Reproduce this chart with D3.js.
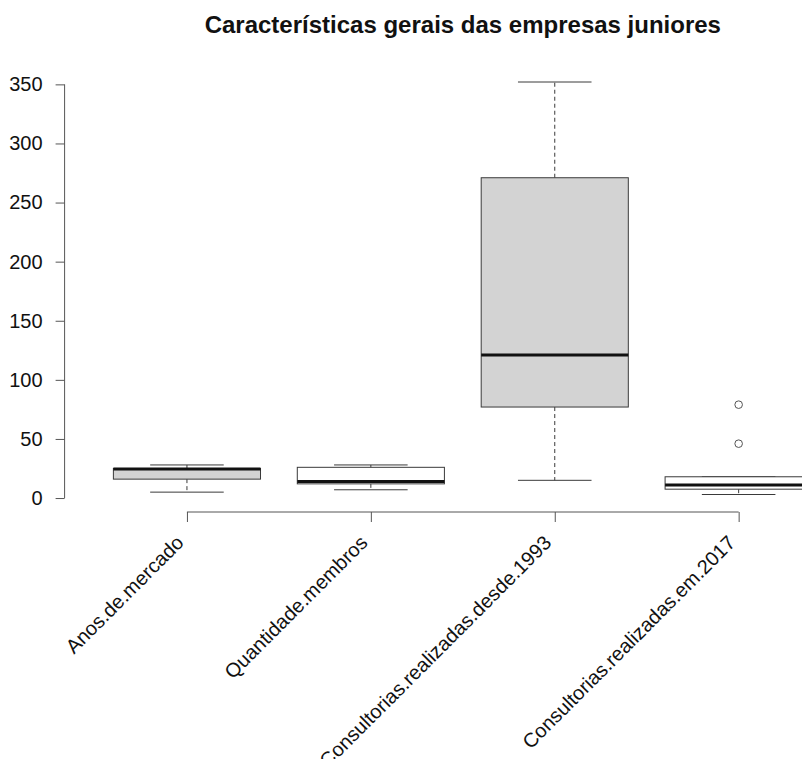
<!DOCTYPE html>
<html>
<head>
<meta charset="utf-8">
<script src="https://cdn.jsdelivr.net/npm/d3@7"></script>
<style>
  body { margin: 0; background: #fff; }
  svg { display: block; font-family: "Liberation Sans", Arial, sans-serif; }
</style>
</head>
<body>
<div id="chart"></div>
<script>
// Box statistics.
const categories = ['Anos.de.mercado', 'Quantidade.membros', 'Consultorias.realizadas.desde.1993', 'Consultorias.realizadas.em.2017'];
const whiskerLow = [5, 7, 15, 3];
const lowerQuartile = [16, 12, 77, 7.5];
const medians = [24.5, 14, 121, 11];
const upperQuartile = [25, 26, 271, 18];
const whiskerHigh = [28, 28, 352, 18];
const outliers = [[], [], [], [46, 79]];
const yTicks = [0, 50, 100, 150, 200, 250, 300, 350];

const title = 'Características gerais das empresas juniores';

const width = 802,
      height = 759;

// plot region (the original R figure was wider and cropped on the right)
const plot = { left: 65.6, right: 860, top: 65.5, bottom: 511 };

const boxes = categories.map((c, i) => ({
  name: c,
  min: whiskerLow[i],
  q1: lowerQuartile[i],
  med: medians[i],
  q3: upperQuartile[i],
  max: whiskerHigh[i],
  out: outliers[i]
}));

const svg = d3.select('#chart')
  .append('svg')
  .attr('width', width)
  .attr('height', height);

const x = d3.scalePoint()
  .domain(categories)
  .range([plot.left + 29.4, plot.right - 29.4]) // xlim 0.5..4.5 inside the 4% padding
  .padding(0.5);

// R style: data range padded 4% each side
const allVals = d3.merge([whiskerLow, whiskerHigh, d3.merge(outliers)]);
const lo = d3.min(allVals), hi = d3.max(allVals), pad = (hi - lo) * 0.04;

const y = d3.scaleLinear()
  .domain([lo - pad, hi + pad])
  .range([plot.bottom, plot.top]);

const fill = d3.scaleOrdinal()
  .domain(categories)
  .range(['#d3d3d3', '#ffffff']);

const boxW = x.step() * 0.8,
      stapleW = boxW * 0.5,
      lineCol = '#3a3a3a';

// title
svg.append('text')
  .attr('x', (plot.left + plot.right) / 2)
  .attr('y', 33)
  .attr('text-anchor', 'middle')
  .attr('font-size', 24)
  .attr('font-weight', 'bold')
  .attr('fill', '#111')
  .text(title);

// y axis
const yAxis = d3.axisLeft(y)
  .tickValues(yTicks)
  .tickSize(9)
  .tickPadding(13);

const gy = svg.append('g')
  .attr('transform', `translate(${plot.left - 1},0)`)
  .call(yAxis);
gy.select('.domain').remove();
gy.selectAll('line').attr('stroke', '#555');
gy.selectAll('text').attr('font-size', 20).attr('fill', '#111').attr('font-family', null);
gy.append('line')
  .attr('y1', y(d3.min(yTicks)))
  .attr('y2', y(d3.max(yTicks)))
  .attr('stroke', '#555');

// x axis
const xAxis = d3.axisBottom(x)
  .tickSize(10)
  .tickFormat('');

const gx = svg.append('g')
  .attr('transform', `translate(0,${plot.bottom + 1})`)
  .call(xAxis);
gx.select('.domain').remove();
gx.selectAll('line').attr('stroke', '#555');
gx.append('line')
  .attr('x1', x(categories[0]))
  .attr('x2', x(categories[categories.length - 1]))
  .attr('stroke', '#555');

// rotated category labels (the long one runs off the bottom, as in the original)
svg.selectAll('.catLabel')
  .data(categories)
  .enter()
  .append('text')
  .attr('class', 'catLabel')
  .attr('transform', d => `translate(${x(d) - 7},${plot.bottom + 28}) rotate(-45)`)
  .attr('text-anchor', 'end')
  .attr('dy', '0.35em')
  .attr('font-size', 20)
  .attr('fill', '#111')
  .text(d => d);

const g = svg.selectAll('.box')
  .data(boxes)
  .enter()
  .append('g')
  .attr('class', 'box');

// whiskers (dashed)
g.append('line')
  .attr('x1', d => x(d.name))
  .attr('x2', d => x(d.name))
  .attr('y1', d => y(d.q3))
  .attr('y2', d => y(d.max))
  .attr('stroke', lineCol)
  .attr('stroke-dasharray', '4,3');

g.append('line')
  .attr('x1', d => x(d.name))
  .attr('x2', d => x(d.name))
  .attr('y1', d => y(d.q1))
  .attr('y2', d => y(d.min))
  .attr('stroke', lineCol)
  .attr('stroke-dasharray', '4,3');

// staples
g.selectAll('.staple')
  .data(d => [{ name: d.name, v: d.min }, { name: d.name, v: d.max }])
  .enter()
  .append('line')
  .attr('class', 'staple')
  .attr('x1', d => x(d.name) - stapleW / 2)
  .attr('x2', d => x(d.name) + stapleW / 2)
  .attr('y1', d => y(d.v))
  .attr('y2', d => y(d.v))
  .attr('stroke', lineCol);

// boxes
g.append('rect')
  .attr('x', d => x(d.name) - boxW / 2)
  .attr('y', d => y(d.q3))
  .attr('width', boxW)
  .attr('height', d => y(d.q1) - y(d.q3))
  .attr('fill', d => fill(d.name))
  .attr('stroke', lineCol);

// medians
g.append('line')
  .attr('x1', d => x(d.name) - boxW / 2)
  .attr('x2', d => x(d.name) + boxW / 2)
  .attr('y1', d => y(d.med))
  .attr('y2', d => y(d.med))
  .attr('stroke', '#111')
  .attr('stroke-width', 3);

// outliers
g.selectAll('circle')
  .data(d => d.out.map(v => ({ name: d.name, v: v })))
  .enter()
  .append('circle')
  .attr('cx', d => x(d.name))
  .attr('cy', d => y(d.v))
  .attr('r', 3.8)
  .attr('fill', 'none')
  .attr('stroke', '#555');
</script>
</body>
</html>
